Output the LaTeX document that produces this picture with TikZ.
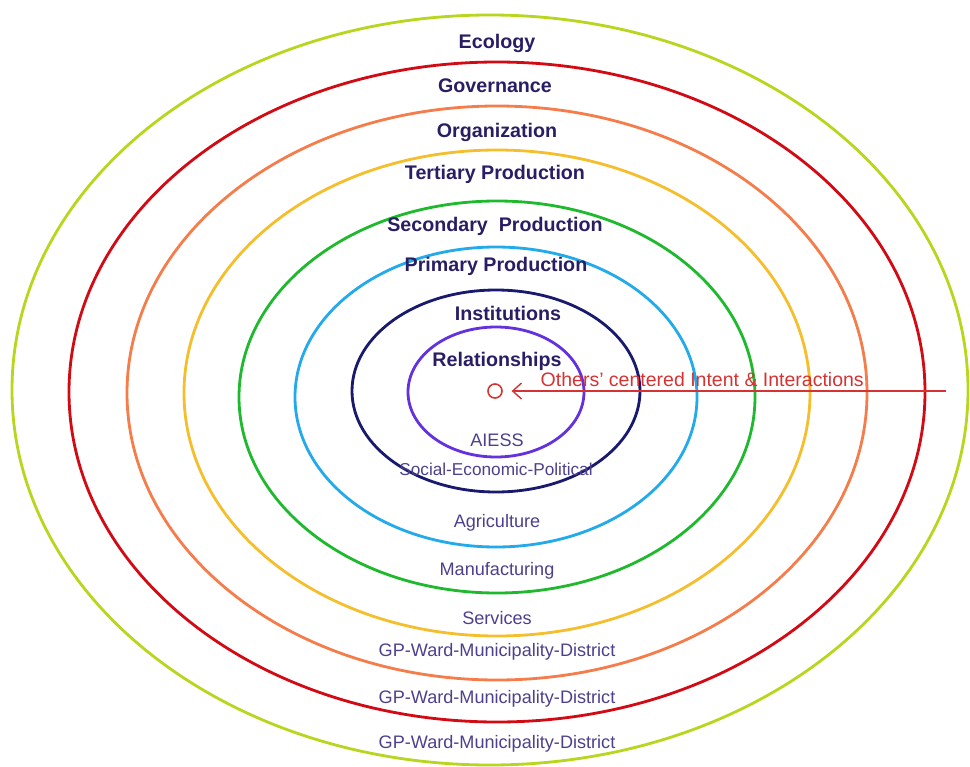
\documentclass[tikz,border=0pt]{standalone}
\usepackage{fontspec}
\setmainfont{Liberation Sans}
\usetikzlibrary{arrows.meta}

\definecolor{ringlime}{RGB}{184,214,30}
\definecolor{ringred}{RGB}{210,10,20}
\definecolor{ringorange}{RGB}{245,125,75}
\definecolor{ringyellow}{RGB}{245,190,45}
\definecolor{ringgreen}{RGB}{30,185,45}
\definecolor{ringblue}{RGB}{35,170,235}
\definecolor{ringnavy}{RGB}{25,25,110}
\definecolor{ringviolet}{RGB}{100,50,220}
\definecolor{headtext}{RGB}{40,30,100}
\definecolor{subtext}{RGB}{75,65,140}
\definecolor{intentred}{RGB}{215,50,50}

\begin{document}
\begin{tikzpicture}[x=0.02cm,y=-0.02cm,
    ring/.style={line width=1.6pt},
    head/.style={text=headtext,font=\fontsize{11.2}{13}\selectfont\bfseries},
    sub/.style={text=subtext,font=\fontsize{10.3}{12}\selectfont}]
                \useasboundingbox (0,0) rectangle (970,767);
                \draw[ring,ringlime] (490,390) ellipse [x radius=478,y radius=375];
                \draw[ring,ringred] (497,392) ellipse [x radius=428,y radius=330];
                \draw[ring,ringorange] (497,393) ellipse [x radius=370,y radius=287];
                \draw[ring,ringyellow] (497,393) ellipse [x radius=313,y radius=243];
                \draw[ring,ringgreen] (497,397) ellipse [x radius=258,y radius=196];
                \draw[ring,ringblue] (496,397) ellipse [x radius=201,y radius=150];
                \draw[ring,ringnavy] (496,391) ellipse [x radius=144,y radius=101];
                \draw[ring,ringviolet] (496,392) ellipse [x radius=88,y radius=65];
                \node[head] (ecology) at (497,43) {Ecology};
                \node[head] (governance) at (495,86) {Governance};
                \node[head] (organization) at (497,132) {Organization};
                \node[head] (tertiary) at (495,174) {Tertiary Production};
                \node[head] (secondary) at (495,226) {Secondary\ \ Production};
                \node[head] (primary) at (496,266) {Primary Production};
                \node[head] (institutions) at (508,313) {Institutions};
                \node[head] (relationships) at (497,361) {Relationships};
                \node[sub] (aiess) at (497,440) {AIESS};
                \node[sub,font=\fontsize{9.8}{12}\selectfont] (sep) at (496,469) {Social-Economic-Political};
                \node[sub] (agriculture) at (497,523) {Agriculture};
                \node[sub] (manufacturing) at (497,571) {Manufacturing};
                \node[sub] (services) at (497,618) {Services};
                \node[sub] (gpone) at (497,652) {GP-Ward-Municipality-District};
                \node[sub] (gptwo) at (497,699) {GP-Ward-Municipality-District};
                \node[sub] (gpthree) at (497,744) {GP-Ward-Municipality-District};
                \node[draw=intentred,circle,line width=0.9pt,minimum size=8pt,inner sep=0pt] (self) at (495,391) {};
                \coordinate (others) at (946,391);
                \draw[intentred,line width=0.8pt,-{Straight Barb[length=5pt,width=9pt]},shorten >=5pt] (others) -- (self)
                    node[pos=0.55,above=-1pt,text=intentred,font=\fontsize{11.1}{13}\selectfont] (intent) {Others' centered Intent \& Interactions};
\end{tikzpicture}
\end{document}
